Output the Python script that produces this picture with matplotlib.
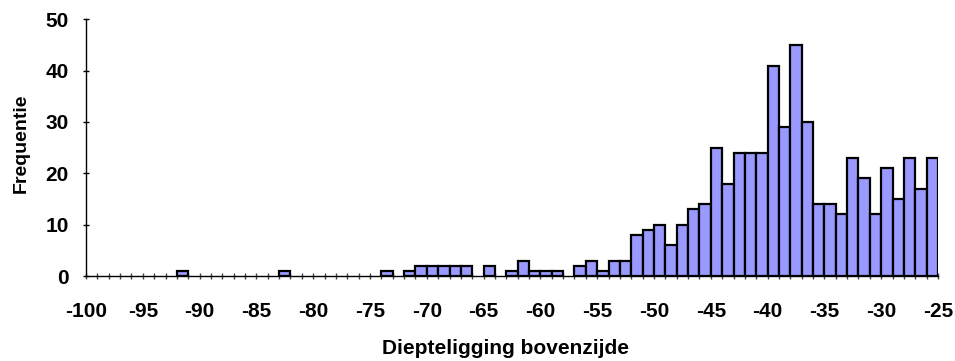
import matplotlib
matplotlib.use("Agg")
import matplotlib.pyplot as plt
from matplotlib.ticker import MultipleLocator

# Bin left edges (depth classes of width 1) and frequencies
bin_left = list(range(-100, -25))
counts = [0, 0, 0, 0, 0, 0, 0, 0, 1, 0,
          0, 0, 0, 0, 0, 0, 0, 1, 0, 0,
          0, 0, 0, 0, 0, 0, 1, 0, 1, 2,
          2, 2, 2, 2, 0, 2, 0, 1, 3, 1,
          1, 1, 0, 2, 3, 1, 3, 3, 8, 9,
          10, 6, 10, 13, 14, 25, 18, 24, 24, 24,
          41, 29, 45, 30, 14, 14, 12, 23, 19, 12,
          21, 15, 23, 17, 23]
xtick_values = [-100, -95, -90, -85, -80, -75, -70, -65, -60, -55, -50, -45, -40, -35, -30, -25]
ytick_values = [0, 10, 20, 30, 40, 50]

plt.rcParams['font.family'] = ['Liberation Sans', 'DejaVu Sans']
plt.rcParams['font.weight'] = 'bold'

fig = plt.figure(figsize=(9.55, 3.61), dpi=100)
ax = fig.add_axes([86/955, 1 - 276/361, (938-86)/955, (276-19.3)/361])

edge_widths = [1.6 if c > 0 else 0 for c in counts]
ax.bar(bin_left, counts, width=1, align='edge', color='#9999FF',
       edgecolor='black', linewidth=edge_widths, zorder=3)

ax.set_xlim(-100, -25)
ax.set_ylim(0, 50)
ax.set_xticks(xtick_values)
ax.set_xticklabels([str(v) for v in xtick_values])
ax.xaxis.set_minor_locator(MultipleLocator(1))
ax.set_yticks(ytick_values)

for s in ['top', 'right']:
    ax.spines[s].set_visible(False)
for s in ['left', 'bottom']:
    ax.spines[s].set_linewidth(1.0)
    ax.spines[s].set_color('black')

ax.tick_params(axis='y', which='major', direction='inout', length=5, width=1,
               labelsize=15, pad=10)
ax.tick_params(axis='x', which='both', direction='inout', length=5, width=1,
               labelsize=15, pad=16, color='#444444')
ax.tick_params(axis='x', which='minor', length=5)

ax.set_xlabel('Diepteligging bovenzijde', fontsize=15, fontweight='bold')
ax.set_ylabel('Frequentie', fontsize=14, fontweight='bold')
ax.xaxis.set_label_coords(0.492, -0.245)
ax.yaxis.set_label_coords(-0.066, 0.517)

fig.savefig('out.png', dpi=100)
